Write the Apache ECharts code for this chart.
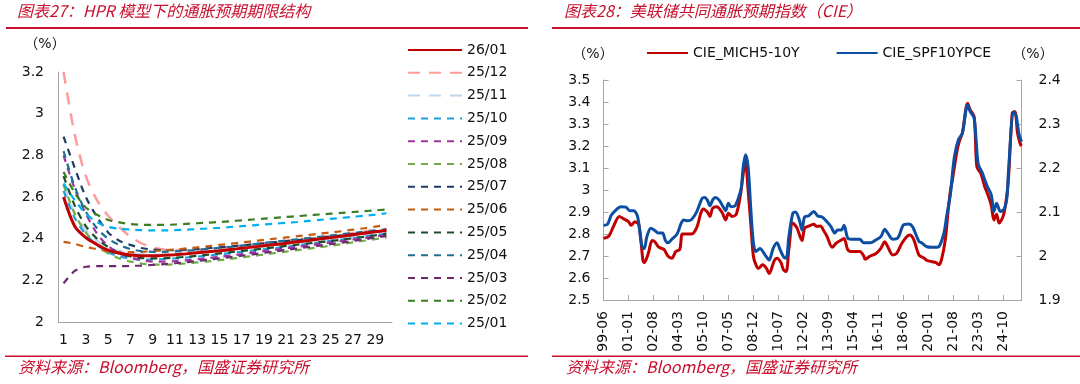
<!DOCTYPE html>
<html><head><meta charset="utf-8">
<script src="https://cdn.jsdelivr.net/npm/echarts@6/dist/echarts.min.js"></script>
<style>html,body{margin:0;padding:0;background:#fff}#c{width:1080px;height:384px}</style>
</head><body><div id="c"></div>
<script>
// ---- Left chart: HPR term structure (maturity 1..30 years) ----
const maturities = Array.from({length:30},(_,i)=>String(i+1));
const s2601 = [2.60,2.46,2.405,2.372,2.345,2.33,2.322,2.318,2.318,2.32,2.323,2.327,2.332,2.337,2.342,2.348,2.354,2.36,2.366,2.372,2.378,2.385,2.391,2.398,2.405,2.412,2.419,2.426,2.433,2.44];
const s2512 = [3.20,2.90,2.70,2.585,2.51,2.455,2.41,2.378,2.358,2.348,2.344,2.344,2.346,2.35,2.355,2.36,2.366,2.372,2.378,2.384,2.39,2.396,2.402,2.408,2.414,2.42,2.427,2.434,2.441,2.448];
const s2511 = [2.66,2.52,2.44,2.39,2.36,2.34,2.33,2.325,2.323,2.323,2.325,2.328,2.332,2.336,2.341,2.346,2.351,2.357,2.363,2.369,2.375,2.381,2.387,2.393,2.399,2.405,2.411,2.417,2.423,2.43];
const s2510 = [2.63,2.50,2.42,2.37,2.335,2.315,2.305,2.30,2.30,2.302,2.305,2.309,2.314,2.319,2.325,2.331,2.337,2.343,2.349,2.355,2.361,2.368,2.375,2.382,2.389,2.396,2.403,2.41,2.417,2.424];
const s2509 = [2.80,2.64,2.52,2.425,2.365,2.33,2.31,2.297,2.29,2.29,2.292,2.296,2.301,2.307,2.313,2.319,2.326,2.333,2.34,2.347,2.354,2.361,2.368,2.375,2.382,2.389,2.396,2.403,2.41,2.417];
const s2508 = [2.66,2.52,2.43,2.37,2.33,2.305,2.29,2.28,2.275,2.275,2.277,2.281,2.286,2.291,2.297,2.303,2.31,2.317,2.324,2.331,2.338,2.345,2.352,2.359,2.366,2.374,2.382,2.39,2.398,2.406];
const s2507 = [2.89,2.74,2.60,2.505,2.43,2.39,2.37,2.355,2.348,2.345,2.345,2.347,2.35,2.354,2.358,2.363,2.368,2.373,2.378,2.383,2.388,2.393,2.398,2.404,2.41,2.416,2.422,2.428,2.434,2.44];
const s2506 = [2.385,2.375,2.36,2.35,2.34,2.335,2.335,2.337,2.34,2.344,2.348,2.353,2.358,2.364,2.37,2.376,2.382,2.388,2.394,2.40,2.406,2.412,2.418,2.424,2.43,2.436,2.443,2.45,2.458,2.466];
const s2505 = [2.70,2.56,2.46,2.40,2.36,2.33,2.315,2.307,2.305,2.306,2.309,2.313,2.318,2.323,2.329,2.335,2.341,2.347,2.353,2.359,2.365,2.371,2.377,2.383,2.389,2.395,2.402,2.409,2.416,2.424];
const s2504 = [2.82,2.65,2.53,2.45,2.40,2.37,2.35,2.34,2.337,2.337,2.339,2.342,2.346,2.351,2.356,2.361,2.367,2.373,2.379,2.385,2.391,2.397,2.403,2.409,2.415,2.421,2.427,2.433,2.439,2.445];
const s2503 = [2.185,2.245,2.265,2.268,2.268,2.268,2.269,2.271,2.274,2.278,2.282,2.287,2.293,2.299,2.305,2.311,2.318,2.325,2.332,2.339,2.346,2.353,2.36,2.367,2.374,2.381,2.389,2.397,2.405,2.413];
const s2502 = [2.72,2.62,2.55,2.515,2.49,2.478,2.47,2.467,2.466,2.466,2.468,2.471,2.474,2.477,2.48,2.484,2.488,2.492,2.496,2.5,2.504,2.508,2.512,2.516,2.52,2.524,2.528,2.532,2.536,2.54];
const s2501 = [2.665,2.585,2.52,2.48,2.457,2.448,2.444,2.441,2.44,2.44,2.441,2.443,2.446,2.449,2.452,2.456,2.46,2.464,2.468,2.472,2.476,2.48,2.485,2.49,2.495,2.5,2.505,2.51,2.515,2.522];
const leftNames = ['26/01','25/12','25/11','25/10','25/09','25/08','25/07','25/06','25/05','25/04','25/03','25/02','25/01'];
const leftData = [s2601,s2512,s2511,s2510,s2509,s2508,s2507,s2506,s2505,s2504,s2503,s2502,s2501];
const leftTicks = [2,3.2,0.2];

// ---- Right chart: CIE, monthly categories 1999-06 .. 2025-12 ----
const months = [];
for (let i=0;i<319;i++){const y=1999+Math.floor((5+i)/12);const m=(5+i)%12+1;months.push(String(y%100).padStart(2,'0')+'-'+String(m).padStart(2,'0'));}
// [month offset from 1999-06, value]
const cieMich = [[0,2.78],[4,2.79],[8,2.84],[12,2.88],[15,2.87],[19,2.856],[21,2.84],[24,2.856],[27,2.84],[30,2.68],[31,2.67],[34,2.71],[37,2.77],[39,2.765],[42,2.74],[46,2.73],[49,2.70],[52,2.69],[55,2.72],[58,2.73],[60,2.80],[63,2.80],[67,2.80],[71,2.83],[74,2.894],[76,2.914],[79,2.90],[81,2.88],[83,2.917],[86,2.924],[90,2.90],[93,2.864],[95,2.894],[98,2.88],[101,2.89],[104,2.97],[106,3.06],[108,3.13],[110,3.0],[112,2.85],[114,2.70],[116,2.66],[118,2.644],[121,2.66],[124,2.644],[126,2.62],[130,2.68],[132,2.69],[135,2.67],[137,2.636],[139,2.63],[141,2.73],[144,2.85],[147,2.83],[151,2.77],[153,2.826],[156,2.836],[160,2.844],[162,2.835],[165,2.836],[168,2.81],[170,2.79],[174,2.74],[177,2.758],[181,2.773],[183,2.78],[186,2.727],[190,2.72],[195,2.72],[198,2.70],[199,2.685],[203,2.70],[207,2.71],[211,2.735],[214,2.765],[216,2.745],[220,2.705],[223,2.712],[227,2.758],[231,2.79],[233,2.795],[236,2.775],[240,2.705],[244,2.69],[246,2.68],[250,2.674],[253,2.67],[255,2.66],[257,2.68],[260,2.773],[262,2.894],[264,3.0],[265,3.03],[269,3.18],[271,3.227],[273,3.258],[277,3.394],[279,3.364],[282,3.333],[284,3.106],[287,3.076],[290,3.015],[292,2.985],[295,2.93],[297,2.864],[299,2.89],[301,2.85],[304,2.88],[306,2.94],[308,3.045],[311,3.35],[313,3.356],[315,3.258],[317,3.21],[318,3.20]];
const cieSpf = [[0,2.070],[3,2.072],[6,2.093],[10,2.106],[13,2.112],[17,2.111],[20,2.103],[23,2.103],[26,2.089],[29,2.025],[31,2.017],[33,2.044],[36,2.063],[39,2.058],[42,2.052],[45,2.052],[47,2.036],[49,2.03],[52,2.038],[56,2.05],[59,2.074],[61,2.082],[64,2.08],[67,2.083],[71,2.101],[75,2.131],[77,2.133],[79,2.127],[81,2.114],[83,2.127],[85,2.133],[88,2.127],[91,2.112],[93,2.103],[95,2.12],[97,2.112],[100,2.114],[103,2.135],[105,2.158],[106,2.195],[108,2.23],[110,2.203],[112,2.11],[114,2.03],[116,2.01],[119,2.017],[123,2.002],[126,1.991],[129,2.017],[132,2.03],[134,2.017],[137,1.998],[139,1.995],[141,2.044],[144,2.097],[146,2.1],[149,2.082],[151,2.059],[153,2.089],[156,2.091],[160,2.101],[163,2.091],[166,2.089],[170,2.078],[173,2.067],[176,2.052],[178,2.059],[181,2.059],[183,2.07],[186,2.04],[190,2.038],[195,2.038],[198,2.03],[203,2.03],[207,2.036],[211,2.044],[214,2.061],[216,2.053],[220,2.038],[224,2.041],[228,2.07],[232,2.073],[235,2.067],[240,2.033],[242,2.03],[246,2.021],[250,2.02],[254,2.02],[256,2.025],[259,2.052],[261,2.089],[264,2.142],[265,2.173],[267,2.226],[270,2.264],[273,2.279],[277,2.343],[279,2.328],[282,2.313],[285,2.21],[288,2.19],[292,2.158],[295,2.139],[297,2.101],[299,2.12],[302,2.101],[305,2.108],[307,2.135],[308,2.188],[312,2.328],[314,2.317],[316,2.279],[318,2.26]];
const rightLeftTicks = [2.5,3.5,0.1];
const rightRightTicks = [1.9,2.4,0.1];

const F = 'DejaVu Sans';
const RED = '#c8102e';
const AX = '#a6a6a6';
const leftColors = ['#c00000','#ff9b9b','#bdd7ee','#1e9fd9','#a233a0','#70ad47','#1f3c64','#c55a11','#1e4d2b','#1f6f96','#6e2a6e','#3a7d22','#00b0f0'];

const leftSeries = leftNames.map((n,i)=>({
  name:n, type:'line', xAxisIndex:0, yAxisIndex:0, data:leftData[i], symbol:'none', smooth:0.3,
  z: i===0?5:2,
  lineStyle:{color:leftColors[i], width: i===0?3:(i<3?2.5:2.2), type: i===0?'solid':(i<3?[12,9]:[7,6])},
  itemStyle:{color:leftColors[i]}
}));

const axLabel = {fontFamily:F,fontSize:14,color:'#111'};
const option = {
  backgroundColor:'#fff',
  animation:false,
  grid:[{left:58,top:72,width:334,height:250},{left:603.5,top:80,width:418,height:220}],
  legend:[
    {data:leftNames, orient:'vertical', left:407, top:43, itemWidth:54, itemHeight:14, itemGap:8.8, padding:0,
     itemStyle:{opacity:0}, textStyle:{fontFamily:F,fontSize:14,color:'#111'}},
    {data:['CIE_MICH5-10Y','CIE_SPF10YPCE'], left:646, top:46, itemWidth:41, itemHeight:14, itemGap:36, padding:0,
     itemStyle:{opacity:0}, textStyle:{fontFamily:F,fontSize:14,color:'#111'}}
  ],
  xAxis:[
    {type:'category', gridIndex:0, data:maturities, boundaryGap:true,
     axisLine:{lineStyle:{color:AX}}, axisTick:{inside:true,length:5,interval:0,lineStyle:{color:AX}},
     axisLabel:Object.assign({interval:1,margin:11},axLabel), splitLine:{show:false}},
    {type:'category', gridIndex:1, data:months, boundaryGap:false,
     axisLine:{lineStyle:{color:AX}}, axisTick:{inside:true,length:5,interval:18,lineStyle:{color:AX}},
     axisLabel:Object.assign({interval:18,rotate:90,margin:11},axLabel), splitLine:{show:false}}
  ],
  yAxis:[
    {type:'value', gridIndex:0, min:leftTicks[0], max:leftTicks[1], interval:leftTicks[2],
     axisLine:{show:true,lineStyle:{color:AX}}, axisTick:{show:false}, splitLine:{show:false},
     axisLabel:Object.assign({margin:14},axLabel)},
    {type:'value', gridIndex:1, min:rightLeftTicks[0], max:rightLeftTicks[1], interval:rightLeftTicks[2],
     axisLine:{show:true,lineStyle:{color:AX}}, axisTick:{show:true,inside:true,length:5,lineStyle:{color:AX}}, splitLine:{show:false},
     axisLabel:Object.assign({margin:13},axLabel)},
    {type:'value', gridIndex:1, position:'right', min:rightRightTicks[0], max:rightRightTicks[1], interval:rightRightTicks[2],
     axisLine:{show:true,lineStyle:{color:AX}}, axisTick:{show:true,inside:true,length:5,lineStyle:{color:AX}}, splitLine:{show:false},
     axisLabel:Object.assign({margin:17},axLabel)}
  ],
  series: leftSeries.concat([
    {name:'CIE_MICH5-10Y', type:'line', xAxisIndex:1, yAxisIndex:1, data:cieMich, symbol:'none', smooth:0.3, z:3,
     lineStyle:{color:'#c00000',width:3}, itemStyle:{color:'#c00000'}},
    {name:'CIE_SPF10YPCE', type:'line', xAxisIndex:1, yAxisIndex:2, data:cieSpf, symbol:'none', smooth:0.3, z:4,
     lineStyle:{color:'#0b4ea2',width:3}, itemStyle:{color:'#0b4ea2'}}
  ]),
  graphic:[
    {type:'text', left:17, top:3, style:{text:'图表27：HPR 模型下的通胀预期期限结构', font:'italic 16px "Noto Sans CJK SC"', fill:RED}},
    {type:'text', left:564, top:3, style:{text:'图表28：美联储共同通胀预期指数（CIE）', font:'italic 16px "Noto Sans CJK SC"', fill:RED}},
    {type:'rect', shape:{x:6,y:27,width:522,height:2}, style:{fill:RED}},
    {type:'rect', shape:{x:552,y:27,width:528,height:2}, style:{fill:RED}},
    {type:'rect', shape:{x:5,y:355.5,width:523,height:1.5}, style:{fill:RED}},
    {type:'rect', shape:{x:552,y:355.5,width:528,height:1.5}, style:{fill:RED}},
    {type:'text', left:18, top:359, style:{text:'资料来源：Bloomberg，国盛证券研究所', font:'italic 16px "Noto Sans CJK SC"', fill:RED}},
    {type:'text', left:566, top:359, style:{text:'资料来源：Bloomberg，国盛证券研究所', font:'italic 16px "Noto Sans CJK SC"', fill:RED}},
    {type:'text', x:45, y:44, style:{text:'（%）', font:'14px "DejaVu Sans","Noto Sans CJK SC"', fill:'#111', align:'center', verticalAlign:'middle'}},
    {type:'text', x:593, y:54.5, style:{text:'（%）', font:'14px "DejaVu Sans","Noto Sans CJK SC"', fill:'#111', align:'center', verticalAlign:'middle'}},
    {type:'text', x:1033, y:54.5, style:{text:'（%）', font:'14px "DejaVu Sans","Noto Sans CJK SC"', fill:'#111', align:'center', verticalAlign:'middle'}}
  ]
};
const chart = echarts.init(document.getElementById('c'), null, {renderer:'canvas'});
chart.setOption(option);
</script></body></html>
